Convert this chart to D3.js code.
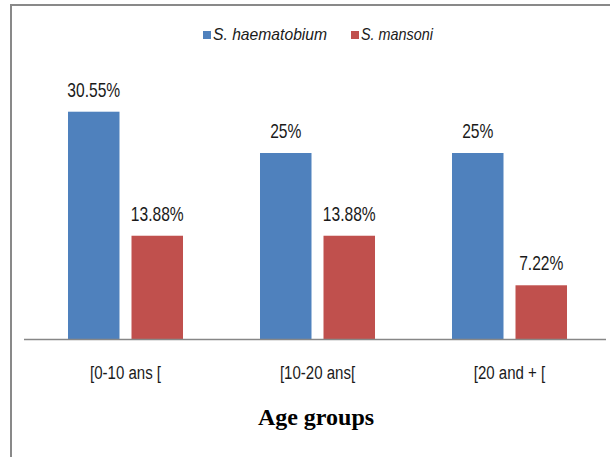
<!DOCTYPE html>
<html><head><meta charset="utf-8">
<script src="https://cdn.jsdelivr.net/npm/d3@7"></script>
<style>
html,body{margin:0;padding:0;background:#fff;}
svg{display:block;}
</style></head>
<body>
<svg id="c" width="610" height="457"></svg>
<script>
const categories = ["[0-10 ans [", "[10-20 ans[", "[20 and + ["];
const seriesNames = ["S. haematobium", "S. mansoni"];
const haematobium = [30.55, 25, 25];
const mansoni = [13.88, 13.88, 7.22];
const valueLabels = [["30.55%", "25%", "25%"], ["13.88%", "13.88%", "7.22%"]];
const colors = ["#4F81BD", "#C0504D"];
const xTitle = "Age groups";

const seriesValues = [haematobium, mansoni];
const svg = d3.select("#c");
const sans = "'Liberation Sans',Arial,sans-serif";

// frame
svg.append("line").attr("x1",11).attr("x2",610).attr("y1",5).attr("y2",5).attr("stroke","#898989").attr("stroke-width",2);
svg.append("line").attr("x1",11).attr("x2",11).attr("y1",4).attr("y2",457).attr("stroke","#898989").attr("stroke-width",2);

const x0 = d3.scaleBand().domain(categories).range([29.5, 605.5]).paddingInner(0.401).paddingOuter(0.2005);
const x1 = d3.scaleBand().domain(seriesNames).range([0, x0.bandwidth()]).paddingInner(0.189);
const y = d3.scaleLinear().domain([0, 35]).range([339, 339 - 35*7.44]);

const g = svg.append("g");
seriesNames.forEach((s, si) => {
  categories.forEach((c, ci) => {
    const v = seriesValues[si][ci];
    const bx = x0(c) + x1(s);
    g.append("rect").attr("x", bx).attr("y", y(v)).attr("width", x1.bandwidth()).attr("height", y(0) - y(v)).attr("fill", colors[si]);
    g.append("text").attr("transform", `translate(${bx + x1.bandwidth()/2},${y(v) - 15}) scale(0.78,1)`)
      .attr("text-anchor","middle").attr("font-family", sans).attr("font-size", 20).attr("fill","#1a1a1a")
      .text(valueLabels[si][ci]);
  });
});

// axis
const xAxis = d3.axisBottom(x0).tickSize(0).tickPadding(0);
const ax = svg.append("g").attr("transform","translate(0,339)").call(xAxis);
ax.select(".domain").attr("d", "M24,0.5H606").attr("stroke","#878787").attr("stroke-width",1.5);
ax.selectAll(".tick text").attr("dy", null).attr("y", 40).attr("transform","scale(0.835,1)")
  .attr("font-family", sans).attr("font-size", 18).attr("fill","#1a1a1a");

svg.append("text").attr("x", 316).attr("y", 425).attr("text-anchor","middle")
  .attr("font-family","'Liberation Serif','Times New Roman',serif").attr("font-weight","bold").attr("font-size",24).attr("fill","#000")
  .text(xTitle);

// legend
const legX = [203, 351];
const legScale = [0.98, 0.9];
seriesNames.forEach((s, i) => {
  svg.append("rect").attr("x", legX[i]).attr("y", 31).attr("width", 8).attr("height", 8).attr("fill", colors[i]);
  svg.append("text").attr("transform", `translate(${legX[i] + 10},39.5) scale(${legScale[i]},1)`).attr("font-family", sans).attr("font-style","italic")
    .attr("font-size", 16).attr("fill","#1a1a1a").text(s);
});
</script>
</body></html>
